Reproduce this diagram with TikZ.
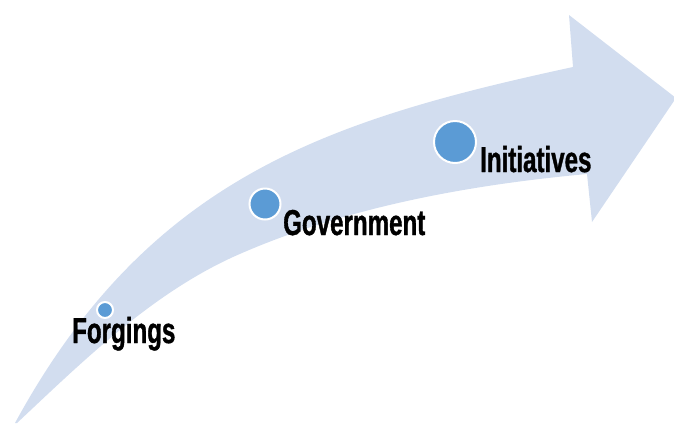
\documentclass[tikz,border=0pt]{standalone}
\usepackage{fontspec}
\setmainfont{Liberation Sans}
\newfontfamily\labelfont[FakeStretch=0.67, FakeBold=1]{Liberation Sans Bold}
\usepackage{xcolor}
\usetikzlibrary{positioning}

\definecolor{arrowblue}{HTML}{D2DDEF}
\definecolor{dotblue}{HTML}{5B9BD5}

\begin{document}
\begin{tikzpicture}[x=1pt, y=-1pt]
	\tikzstyle{dot} = [circle, draw=white, line width=2pt, fill=dotblue, inner sep=0pt]
	\tikzstyle{word} = [anchor=base west, inner sep=0pt, font=\labelfont\fontsize{36}{42}\selectfont]
	\useasboundingbox (0,0) rectangle (674,424);
	% curved arrow
	\fill[arrowblue] (15,423) .. controls (149,177) and (328,120) .. (573,67)
		-- (569,15) -- (676,98) -- (592,222) -- (587,174)
		.. controls (467,185) and (342,208) .. (233,257)
		.. controls (150,295) and (82,362) .. (17,423) -- cycle;
	% stages
	\node[dot, minimum size=16pt] (forge) at (105,310) {};
	\node[dot, minimum size=31pt] (gov) at (265,204) {};
	\node[dot, minimum size=42pt] (init) at (455,142) {};
	\node[word] (forgetext) at (72,343) {Forgings};
	\node[word] (govtext) at (283,235) {Government};
	\node[word] (inittext) at (480,172) {Initiatives};
\end{tikzpicture}
\end{document}
